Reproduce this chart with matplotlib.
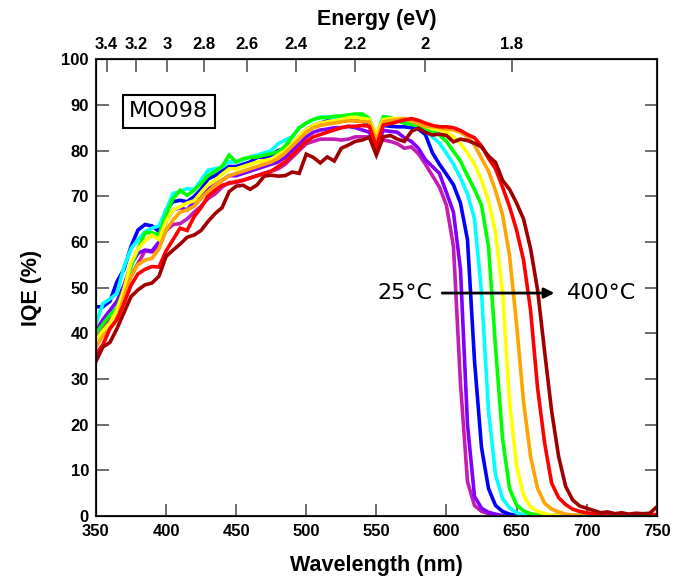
import numpy as np
import matplotlib
matplotlib.use('Agg')
import matplotlib.pyplot as plt

# wavelength grid (nm)
wl = np.arange(350, 755, 5)

# IQE (%) per anneal temperature, 25C -> 400C
magenta = [38.5, 41.5, 43, 44, 48, 52.5, 55.3, 58, 57.8, 59,
           62.5, 63.8, 64, 65, 66.5, 67.8, 69.5, 70.5, 72, 73,
           73, 73.5, 74, 74.5, 75, 75.5, 76, 77, 78.5, 80,
           81.5, 82, 82.5, 82.5, 82.5, 82.3, 82.5, 83, 83, 83,
           81.5, 82.3, 82, 81.5, 80.5, 80.8, 79.3, 77, 74.5, 72,
           68, 59, 29, 7.5, 2.3, 1, 0.5, 0.2, 0, 0,
           0, 0, 0, 0, 0, 0, 0, 0, 0, 0,
           0, 0, 0, 0, 0, 0, 0, 0, 0, 0, 0]
purple = [40.5, 43, 45, 47, 50.5, 55, 57.5, 58.2, 58, 60,
          64.5, 67, 67.5, 67, 68.8, 70.5, 71.5, 72.5, 73.5, 74.5,
          74.5, 75, 75.5, 76, 76.5, 77, 77.5, 78.5, 80, 81.5,
          83, 84, 84.5, 84.7, 85, 85, 85.3, 85, 84.5, 84,
          81, 84.4, 84.2, 84, 82.8, 82, 80.5, 78, 76.5, 75,
          70.8, 66.5, 54, 20, 4.3, 1.7, 0.8, 0.4, 0.1, 0,
          0, 0, 0, 0, 0, 0, 0, 0, 0, 0,
          0, 0, 0, 0, 0, 0, 0, 0, 0, 0, 0]
blue = [45.8, 45.8, 47, 51.3, 54, 59, 62.6, 63.8, 63.5, 62.3,
        67, 68.8, 69.1, 68.8, 69.9, 71.5, 73.8, 74.5, 75.5, 76.5,
        76.5, 77, 77.5, 78.5, 78.5, 79, 80, 80.5, 81.5, 83,
        84.5, 85.5, 86, 86.5, 86.3, 86.5, 86.8, 86.5, 86.5, 85.5,
        82, 85.5, 85.3, 85.2, 85.2, 85, 84.7, 83.5, 79.5, 77,
        74.8, 72.5, 68.5, 60.5, 34, 15, 6, 2.3, 1, 0.4,
        0.1, 0.1, 0.1, 0.1, 0.1, 0.1, 0.1, 0.1, 0.1, 0.1,
        0.1, 0.1, 0.1, 0.1, 0.1, 0.1, 0.1, 0.1, 0.1, 0.1, 0.1]
cyan = [42, 46.5, 47.5, 48.7, 54.5, 58.5, 60.5, 62.2, 63, 63.5,
        67, 70.6, 71, 71.7, 71.4, 73.5, 75.7, 76, 76.4, 77.5,
        77.5, 78, 78.6, 79, 79.5, 80, 81.5, 82.3, 83, 85,
        86, 86.8, 87.3, 87.4, 87.2, 87.5, 87.7, 87.5, 87.6, 86.5,
        83.3, 86.2, 86.5, 86.4, 86.3, 86, 85.2, 84.3, 83, 81.6,
        79.4, 77, 74, 70.5, 65, 49, 23, 9, 3.8, 1.8,
        0.7, 0.2, 0.1, 0.1, 0.1, 0.1, 0.1, 0.1, 0.1, 0.1,
        0.1, 0.1, 0.1, 0.1, 0.1, 0.1, 0.1, 0.1, 0.1, 0.1, 0.1]
green = [40, 42, 44, 45.5, 49.5, 54.5, 58.5, 62, 62, 61.5,
         66, 69.5, 71.3, 70.2, 71.3, 72.8, 74.5, 75.5, 76.5, 79,
         77.5, 78.2, 78.5, 78.6, 79, 79.3, 79.7, 81, 83, 85,
         86, 86.8, 87.2, 87.2, 87.5, 87.6, 87.8, 88, 88, 87,
         83.3, 87.4, 87.2, 86.6, 86, 85.7, 85.5, 85, 84.2, 83.4,
         82, 79.8, 77.7, 74.5, 71.5, 68, 59, 37, 17, 6,
         2.4, 1.1, 0.5, 0.2, 0.1, 0.1, 0.1, 0.1, 0.1, 0.1,
         0.1, 0.1, 0.1, 0.1, 0.1, 0.1, 0.1, 0.1, 0.1, 0.1, 0.1]
yellow = [38.5, 40.5, 42.2, 45, 49.5, 55.5, 58.5, 60.2, 61.5, 60.5,
          64.5, 67, 67.7, 68.5, 69, 70.8, 72.5, 73.5, 74.8, 76,
          76, 76.5, 77, 77.5, 77.8, 78, 79, 80, 81.5, 83.2,
          84.5, 85.5, 86, 86.3, 86.5, 86.8, 87.2, 87.3, 87, 86.8,
          83.5, 86.8, 87, 87, 87, 86.5, 86, 85.3, 84.8, 84.6,
          84, 83, 81.5, 79.5, 77, 73.5, 69, 62, 49, 25,
          11, 4.5, 2, 1, 0.5, 0.2, 0.1, 0.1, 0.1, 0.1,
          0.1, 0.1, 0.1, 0.1, 0.1, 0.1, 0.1, 0.1, 0.1, 0.1, 0.1]
orange = [37, 39.5, 41, 43, 48, 52.5, 55, 56, 56.4, 58.5,
          62.5, 64.8, 66.5, 67, 67.8, 69.5, 71, 72.4, 73.5, 74.5,
          75, 75.5, 76, 76.5, 77, 77.5, 78.3, 79.5, 81, 82.5,
          84, 85, 85.5, 85.8, 86, 86.3, 86.5, 86.5, 86.3, 86.3,
          82.3, 86.3, 86.6, 86.8, 87, 86.5, 85.8, 85.3, 85.2, 85,
          84.7, 84.5, 84, 83, 81.2, 78.3, 75.5, 71.2, 66, 57,
          42, 25, 13, 6, 2.8, 1.5, 0.9, 0.4, 0.2, 0.1,
          0.1, 0.1, 0.1, 0.1, 0.1, 0.1, 0.1, 0.1, 0.1, 0.1, 0.1]
red = [35.5, 37.5, 41, 43, 46.5, 50.5, 53, 54, 54.6, 54.5,
       58, 60.5, 63, 62.5, 65.5, 67.5, 70, 71.3, 72.4, 72.8,
       73.2, 73.5, 74, 74.5, 75, 75.5, 76.5, 77.5, 79, 80.5,
       82, 83, 83.5, 84, 84.5, 85, 85.3, 85.3, 85.5, 85.3,
       80.8, 85.6, 85.9, 86.3, 86.7, 87, 86.6, 86, 85.5, 85.2,
       85.2, 85, 84.4, 83.5, 82.8, 81, 78.3, 76, 72, 67.7,
       62.6, 56, 45, 28, 16, 7.2, 4, 2.5, 1.5, 1,
       0.7, 0.5, 0.4, 0.4, 0.3, 0.3, 0.3, 0.3, 0.3, 0.3, 0.3]
darkred = [33.8, 37, 38, 41, 44.5, 48, 49.5, 50.6, 51, 52.5,
           56.8, 58.2, 59.5, 61, 61.5, 62.5, 64.5, 66.2, 67.5, 71,
           72.2, 72.4, 71.5, 72.5, 74.4, 74.6, 74.4, 74.5, 75.3, 75,
           79.2, 78.5, 77.3, 78.6, 77.7, 80.5, 81.2, 82, 82.3, 82.9,
           79, 83, 83.3, 82.5, 82, 84.2, 84.9, 84, 83.4, 83.6,
           83.3, 81.9, 82.5, 82.2, 81.6, 80.8, 78.8, 77.4, 73.5, 71.5,
           68.5, 65, 58.5, 49.5, 36, 23, 13, 6.5, 3.5, 2.2,
           1.7, 1.2, 0.7, 0.9, 0.5, 0.7, 0.4, 0.6, 0.5, 0.6, 2]

series = [magenta, purple, blue, cyan, green, yellow, orange, red, darkred]
colors = ['#c41db4', '#8000ff', '#0000ff', '#00ffff', '#00ff00',
          '#ffff00', '#ffa500', '#ff0000', '#a00000']

# top axis: energy ticks and where they sit on the wavelength scale
energy_ticks = [3.4, 3.2, 3, 2.8, 2.6, 2.4, 2.2, 2, 1.8]
energy_pos = [357.6, 378.5, 401, 427.3, 457.6, 493, 534.8, 585, 646.4]

fig = plt.figure(figsize=(6.95, 5.86), dpi=100)
ax = fig.add_axes([0.138, 0.1195, 0.807, 0.7795])

for y, c in zip(series, colors):
    ax.plot(wl, y, color=c, lw=2.6, solid_joinstyle='miter')

ax.set_xlim(350, 750)
ax.set_ylim(0, 100)
ax.set_xticks(range(350, 751, 50))
ax.set_yticks(range(0, 101, 10))

lab_font = 'Liberation Sans'
for lab in ax.get_xticklabels() + ax.get_yticklabels():
    lab.set_family(lab_font)
    lab.set_fontweight('bold')
    lab.set_fontsize(12)

ax.tick_params(direction='in', length=9, width=1.2, color='#555555',
               right=True)
ax.tick_params(axis='x', pad=6)
ax.tick_params(axis='y', pad=5)
for s in ax.spines.values():
    s.set_linewidth(1.5)
    s.set_color('#222222')

ax.set_xlabel('Wavelength (nm)', family=lab_font, fontweight='bold',
              fontsize=15.5, labelpad=11)
ax.set_ylabel('IQE (%)', family=lab_font, fontweight='bold',
              fontsize=15.5, labelpad=14)

ax2 = ax.twiny()
ax2.set_xlim(350, 750)
ax2.set_xticks(energy_pos)
ax2.set_xticklabels([f'{e:g}' for e in energy_ticks], family=lab_font,
                    fontweight='bold', fontsize=12)
ax2.tick_params(direction='in', length=9, width=1.2, color='#555555', pad=5)
ax2.set_xlabel('Energy (eV)', family=lab_font, fontweight='bold',
               fontsize=15.5, labelpad=9)

ax.text(402, 88.6, 'MO098', fontsize=16, ha='center', va='center',
        bbox=dict(boxstyle='square,pad=0.3', fc='white', ec='black', lw=1.5))

ax.annotate('', xy=(679, 48.8), xytext=(595, 48.8),
            arrowprops=dict(arrowstyle='-|>', color='black', lw=2,
                            mutation_scale=15))
ax.text(590, 48.8, '25°C', fontsize=16, ha='right', va='center')
ax.text(686, 48.8, '400°C', fontsize=16, ha='left', va='center')

fig.savefig('out.png', dpi=100)
